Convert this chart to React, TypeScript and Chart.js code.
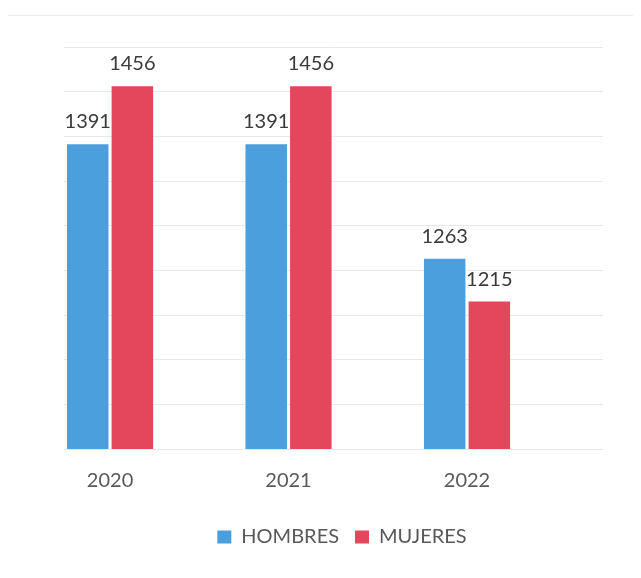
import React, { useEffect, useRef } from "react";
import { Chart, registerables } from "chart.js";

Chart.register(...registerables);

const years = [2020, 2021, 2022];
const hombres = [1391, 1391, 1263];
const mujeres = [1456, 1456, 1215];
const seriesNames = ["HOMBRES", "MUJERES"];
const yMin = 1050;
const yMax = 1500;
const yStep = 50;

const BLUE = "#4b9fdc";
const RED = "#e2475b";
const FONT = "Lato, 'Noto Sans', sans-serif";

const valueLabels = {
  id: "valueLabels",
  afterDatasetsDraw(chart: any) {
    const ctx = chart.ctx;
    ctx.save();
    ctx.font = `400 20px ${FONT}`;
    ctx.fillStyle = "#3a3a3a";
    ctx.textAlign = "center";
    ctx.textBaseline = "alphabetic";
    chart.data.datasets.forEach((ds: any, di: number) => {
      const meta = chart.getDatasetMeta(di);
      meta.data.forEach((el: any, i: number) => {
        ctx.fillText(String(ds.data[i].y), el.x, el.y - 16);
      });
    });
    ctx.restore();
  },
};

export default function App() {
  const ref = useRef<HTMLCanvasElement | null>(null);

  useEffect(() => {
    if (!ref.current) return;
    const chart = new Chart(ref.current, {
      type: "bar",
      data: {
        datasets: [
          {
            label: seriesNames[0],
            data: years.map((x, i) => ({ x, y: hombres[i] })),
            backgroundColor: BLUE,
          },
          {
            label: seriesNames[1],
            data: years.map((x, i) => ({ x, y: mujeres[i] })),
            backgroundColor: RED,
          },
        ],
      },
      options: {
        animation: false,
        responsive: true,
        maintainAspectRatio: false,
        datasets: {
          bar: { categoryPercentage: 0.5, barPercentage: 0.93 },
        },
        layout: { padding: { left: 43, right: 0, top: 39, bottom: 13 } },
        plugins: {
          tooltip: { enabled: false },
          legend: {
            position: "bottom",
            labels: {
              boxWidth: 14,
              boxHeight: 13,
              padding: 16,
              color: "#595959",
              font: { family: FONT, size: 20 },
            },
          },
        },
        scales: {
          x: {
            type: "linear",
            offset: false,
            min: 2019.742,
            max: 2022.762,
            grid: { display: false, drawTicks: false, offset: false },
            border: { display: false },
            afterBuildTicks: (s: any) => {
              s.ticks = years.map((v) => ({ value: v }));
            },
            afterFit: (s: any) => {
              s.height = 62;
            },
            ticks: {
              padding: 20,
              color: "#595959",
              font: { family: FONT, size: 20 },
              callback: (v: any) => String(v),
            },
          },
          y: {
            min: yMin,
            max: yMax,
            position: "left",
            grid: { color: "#e8e8e8", lineWidth: 1, drawTicks: false },
            border: { display: false },
            ticks: { display: false, stepSize: yStep },
            afterFit: (s: any) => {
              s.width = 13;
            },
          },
          yRight: {
            type: "linear",
            position: "right",
            display: true,
            grid: { display: false, drawTicks: false },
            border: { display: false },
            ticks: { display: false },
            afterFit: (s: any) => {
              s.width = 30;
            },
          },
        },
      },
      plugins: [valueLabels],
    });
    return () => chart.destroy();
  }, []);

  return (
    <div style={{ position: "relative", width: 625, height: 562 }}>
      <div
        style={{
          position: "absolute",
          top: 7,
          left: 0,
          width: 625,
          height: 1,
          background: "#ececec",
        }}
      />
      <canvas ref={ref} />
    </div>
  );
}
